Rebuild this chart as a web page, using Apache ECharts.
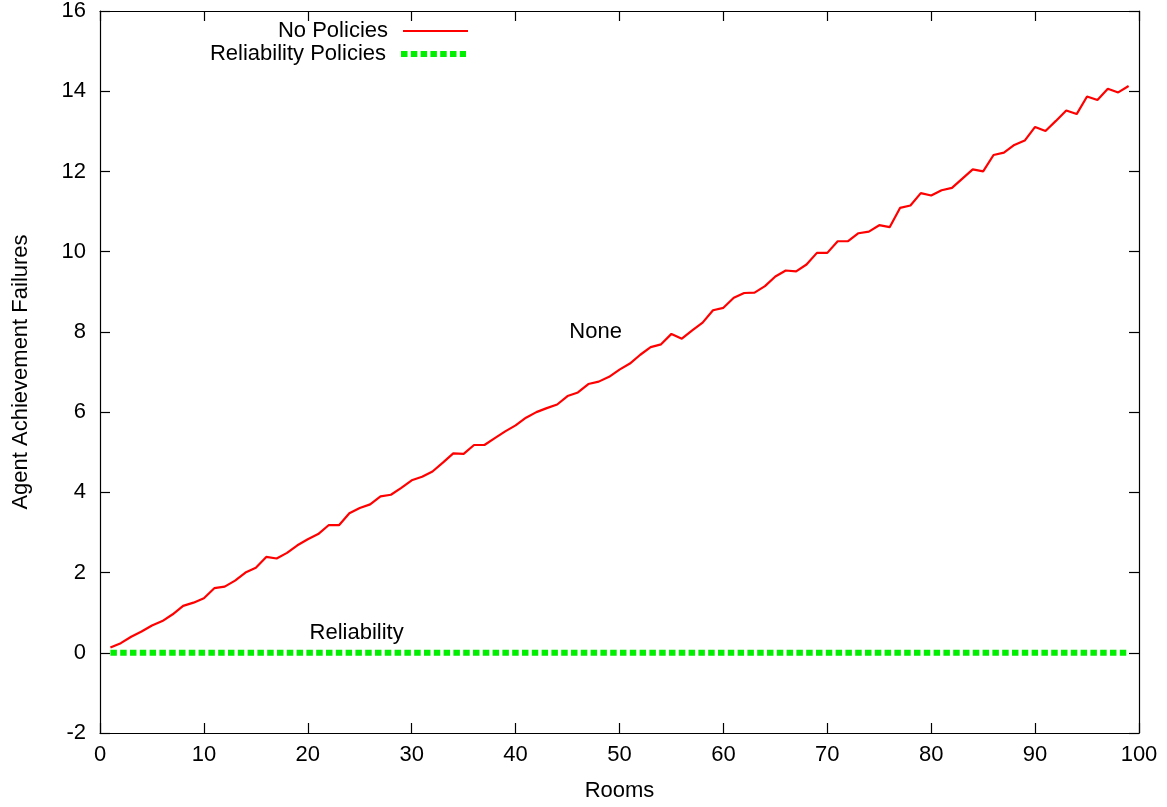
<!DOCTYPE html>
<html>
<head>
<meta charset="utf-8">
<title>Agent Achievement Failures</title>
<script src="https://cdn.jsdelivr.net/npm/echarts@6/dist/echarts.min.js"></script>
<style>
    html, body { margin: 0; padding: 0; background: #fff; }
    #chart { width: 1167px; height: 807px; }
</style>
</head>
<body>
<div id="chart"></div>
<script>
// rooms 1..99
const rooms = [
    1, 2, 3, 4, 5, 6, 7, 8, 9, 10, 11, 12, 13, 14, 15, 16, 17, 18, 19, 20,
    21, 22, 23, 24, 25, 26, 27, 28, 29, 30, 31, 32, 33, 34, 35, 36, 37, 38, 39, 40,
    41, 42, 43, 44, 45, 46, 47, 48, 49, 50, 51, 52, 53, 54, 55, 56, 57, 58, 59, 60,
    61, 62, 63, 64, 65, 66, 67, 68, 69, 70, 71, 72, 73, 74, 75, 76, 77, 78, 79, 80,
    81, 82, 83, 84, 85, 86, 87, 88, 89, 90, 91, 92, 93, 94, 95, 96, 97, 98, 99
]

const noPolicies = [
    0.13, 0.24, 0.40, 0.53, 0.68, 0.79, 0.96, 1.17, 1.25, 1.36,
    1.61, 1.65, 1.80, 2.00, 2.12, 2.39, 2.35, 2.49, 2.68, 2.83,
    2.96, 3.18, 3.18, 3.48, 3.61, 3.70, 3.90, 3.94, 4.11, 4.30,
    4.39, 4.52, 4.74, 4.97, 4.96, 5.18, 5.18, 5.35, 5.52, 5.67,
    5.86, 6.00, 6.10, 6.19, 6.40, 6.49, 6.70, 6.76, 6.88, 7.06,
    7.21, 7.43, 7.62, 7.69, 7.95, 7.83, 8.04, 8.23, 8.54, 8.60,
    8.85, 8.97, 8.98, 9.14, 9.38, 9.53, 9.51, 9.68, 9.97, 9.97,
    10.26, 10.26, 10.46, 10.50, 10.66, 10.61, 11.09, 11.15, 11.46, 11.40,
    11.53, 11.59, 11.82, 12.05, 12.00, 12.41, 12.47, 12.66, 12.77, 13.11,
    13.01, 13.26, 13.52, 13.43, 13.87, 13.78, 14.06, 13.97, 14.13
]

const reliabilityPolicies = [
    0, 0, 0, 0, 0, 0, 0, 0, 0, 0, 0, 0, 0, 0, 0, 0, 0, 0, 0, 0,
    0, 0, 0, 0, 0, 0, 0, 0, 0, 0, 0, 0, 0, 0, 0, 0, 0, 0, 0, 0,
    0, 0, 0, 0, 0, 0, 0, 0, 0, 0, 0, 0, 0, 0, 0, 0, 0, 0, 0, 0,
    0, 0, 0, 0, 0, 0, 0, 0, 0, 0, 0, 0, 0, 0, 0, 0, 0, 0, 0, 0,
    0, 0, 0, 0, 0, 0, 0, 0, 0, 0, 0, 0, 0, 0, 0, 0, 0, 0, 0
]

const xTicks = { min: 0, max: 100, interval: 10 }
const yTicks = { min: -2, max: 16, interval: 2 }

const FONT = 'Liberation Sans, Arial, Helvetica, sans-serif'
const RED = '#ff0000'
const GREEN = '#00ee00'
const DASH = [6.5, 3.3]

function pairs(xs, ys) {
    return xs.map((x, i) => [x, ys[i]])
}

function axisBase(extra) {
    return Object.assign({
        type: 'value',
        axisLine: { show: true, onZero: false, lineStyle: { color: '#000', width: 1.2 } },
        axisTick: { show: true, inside: true, length: 10, lineStyle: { color: '#000', width: 1.2 } },
        splitLine: { show: false },
        axisLabel: { color: '#000', fontSize: 22, fontFamily: FONT }
    }, extra)
}

function legendFor(name, top, lineStyle) {
    return {
        data: [name],
        right: 698,
        top: top,
        padding: 0,
        align: 'right',
        itemWidth: 65,
        itemHeight: 14,
        // hide the marker dot, keep only the line sample
        itemStyle: { opacity: 0 },
        textStyle: { fontSize: 22, color: '#000', fontFamily: FONT, padding: [0, 10, 0, 0] },
        lineStyle: lineStyle
    }
}

const chart = echarts.init(document.getElementById('chart'), null, { renderer: 'canvas' })

chart.setOption({
    animation: false,
    backgroundColor: '#fff',
    textStyle: { fontFamily: FONT },
    grid: { left: 100, right: 28, top: 10, bottom: 73, containLabel: false },
    legend: [
        legendFor('No Policies', 20, { width: 2 }),
        legendFor('Reliability Policies', 43, { width: 6, type: DASH })
    ],
    xAxis: [
        axisBase({
            min: xTicks.min, max: xTicks.max, interval: xTicks.interval,
            position: 'bottom',
            name: 'Rooms',
            nameLocation: 'middle',
            nameGap: 47,
            nameTextStyle: { fontSize: 22, color: '#000', fontFamily: FONT },
            axisLabel: { color: '#000', fontSize: 22, fontFamily: FONT, margin: 11 }
        }),
        axisBase({
            min: xTicks.min, max: xTicks.max, interval: xTicks.interval,
            position: 'top',
            axisLabel: { show: false }
        })
    ],
    yAxis: [
        axisBase({
            min: yTicks.min, max: yTicks.max, interval: yTicks.interval,
            position: 'left',
            name: 'Agent Achievement Failures',
            nameLocation: 'middle',
            nameGap: 68,
            nameTextStyle: { fontSize: 22, color: '#000', fontFamily: FONT },
            axisLabel: { color: '#000', fontSize: 22, fontFamily: FONT, margin: 14 }
        }),
        axisBase({
            min: yTicks.min, max: yTicks.max, interval: yTicks.interval,
            position: 'right',
            axisLabel: { show: false }
        })
    ],
    series: [
        {
            name: 'No Policies',
            type: 'line',
            data: pairs(rooms, noPolicies),
            symbol: 'none',
            lineStyle: { color: RED, width: 2.2 },
            itemStyle: { color: RED },
            markPoint: {
                symbol: 'circle',
                symbolSize: 0,
                label: { show: true, position: 'inside', formatter: 'None', color: '#000', fontSize: 22, fontFamily: FONT },
                data: [{ coord: [47.7, 8] }]
            }
        },
        {
            name: 'Reliability Policies',
            type: 'line',
            data: pairs(rooms, reliabilityPolicies),
            symbol: 'none',
            lineStyle: { color: GREEN, width: 6, type: DASH, cap: 'butt' },
            itemStyle: { color: GREEN },
            markPoint: {
                symbol: 'circle',
                symbolSize: 0,
                label: { show: true, position: 'inside', formatter: 'Reliability', color: '#000', fontSize: 22, fontFamily: FONT },
                data: [{ coord: [24.7, 0.5] }]
            }
        }
    ]
})
</script>
</body>
</html>
